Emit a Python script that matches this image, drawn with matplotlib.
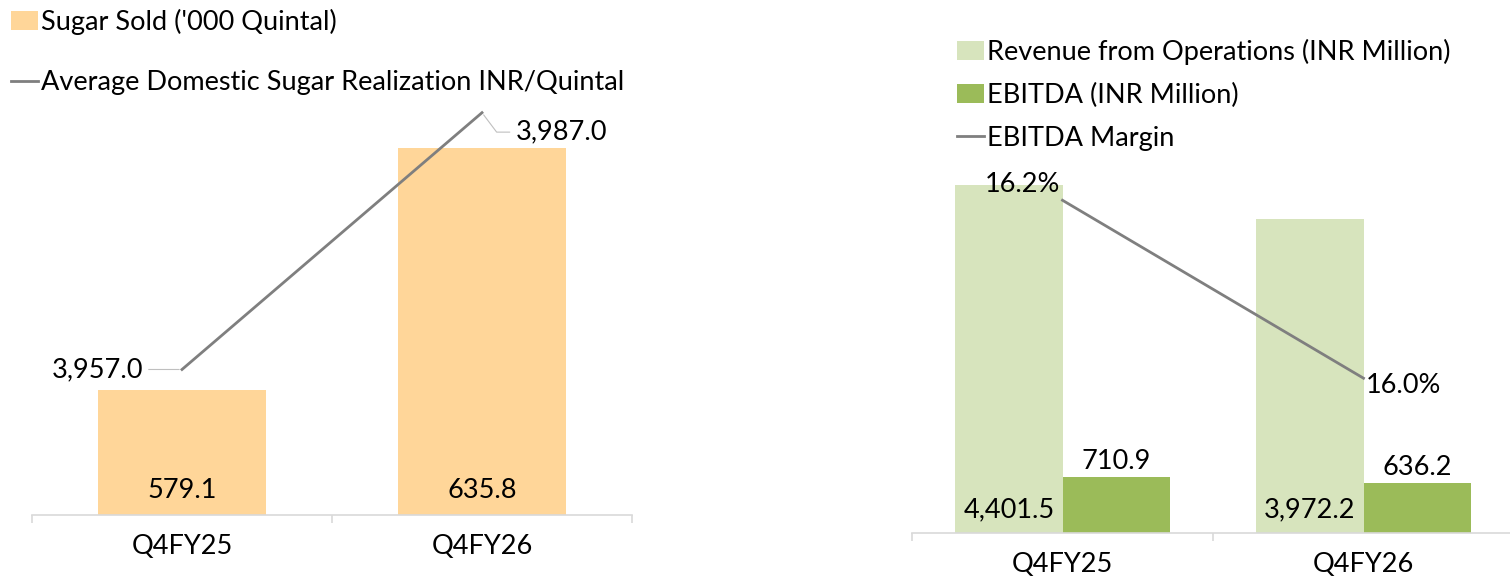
import matplotlib
matplotlib.use("Agg")
import matplotlib.pyplot as plt
from matplotlib.patches import Patch
from matplotlib.lines import Line2D

plt.rcParams['font.family'] = ['Lato', 'DejaVu Sans']

# data
quarters = ['Q4FY25', 'Q4FY26']
sugar_sold = [579.1, 635.8]
sugar_realization = [3957.0, 3987.0]
revenue = [4401.5, 3972.2]
ebitda = [710.9, 636.2]
ebitda_margin = [16.2, 16.0]

SUGAR = '#FFD699'
REV = '#D7E4BD'
EBITDA = '#9BBB59'
LINE = '#7F7F7F'
AXIS = '#D9D9D9'
FS = 19.5
LW = 2.0

W, H = 1510, 580
fig = plt.figure(figsize=(W / 100, H / 100), dpi=100)


def px_axes(x0, x1, ytop, ybot):
    return fig.add_axes([x0 / W, (H - ybot) / H, (x1 - x0) / W, (ybot - ytop) / H])


def style_axes(ax):
    for s in ['top', 'right', 'left']:
        ax.spines[s].set_visible(False)
    ax.spines['bottom'].set_color(AXIS)
    ax.spines['bottom'].set_linewidth(1.2)
    ax.set_yticks([])
    ax.set_xlim(-0.5, 1.5)
    ax.set_xticks(range(len(quarters)))
    ax.set_xticklabels(quarters, fontsize=FS)
    ax.tick_params(axis='x', which='major', length=0, pad=14)
    ax.set_xticks([-0.5, 0.5, 1.5], minor=True)
    ax.tick_params(axis='x', which='minor', length=6, color=AXIS, width=1.2)


def clean_twin(ax2):
    for s in ax2.spines.values():
        s.set_visible(False)
    ax2.set_yticks([])


# ---- left chart: sugar ----
ax1 = px_axes(32, 632, 87, 515)
style_axes(ax1)
x = list(range(len(quarters)))
ax1.bar(x, sugar_sold, width=0.557, color=SUGAR, bottom=0)
ax1.set_ylim(550, 650)
for i, v in enumerate(sugar_sold):
    ax1.annotate(f'{v:,.1f}', xy=(i, 550), xytext=(0, 18), textcoords='offset points',
                 ha='center', va='center', fontsize=FS)

ax1b = ax1.twinx()
clean_twin(ax1b)
ax1b.plot(x, sugar_realization, color=LINE, lw=LW)
ax1b.set_ylim(3940, 3990)
ax1b.annotate(f'{sugar_realization[0]:,.1f}', xy=(0, sugar_realization[0]), xytext=(-28, 0),
              textcoords='offset points', ha='right', va='center', fontsize=FS,
              arrowprops=dict(arrowstyle='-', color='#BFBFBF', lw=0.8, shrinkA=2, shrinkB=2))
ax1b.annotate(f'{sugar_realization[1]:,.1f}', xy=(1, sugar_realization[1]), xytext=(24, -14),
              textcoords='offset points', ha='left', va='center', fontsize=FS,
              arrowprops=dict(arrowstyle='-', color='#BFBFBF', lw=0.8, shrinkA=2, shrinkB=2,
                              connectionstyle='angle,angleA=0,angleB=127,rad=0'))

h1 = [Patch(facecolor=SUGAR), Line2D([0], [0], color=LINE, lw=LW)]
ax1b.legend(h1, ["Sugar Sold ('000 Quintal)", 'Average Domestic Sugar Realization INR/Quintal'],
            loc='upper left', bbox_to_anchor=(11 / W, 1 - 9 / H), bbox_transform=fig.transFigure,
            frameon=False, fontsize=FS, handlelength=1.0, handletextpad=0.12,
            labelspacing=1.3, borderpad=0, borderaxespad=0)

# ---- right chart: revenue / EBITDA ----
ax2 = px_axes(912, 1514, 138, 533)
style_axes(ax2)
bw = 0.356
ax2.bar([i - bw / 2 for i in x], revenue, width=bw, color=REV)
ax2.bar([i + bw / 2 for i in x], ebitda, width=bw, color=EBITDA)
ax2.set_ylim(0, 5000)
for i, v in enumerate(revenue):
    ax2.annotate(f'{v:,.1f}', xy=(i - bw / 2, 0), xytext=(0, 17), textcoords='offset points',
                 ha='center', va='center', fontsize=FS)
for i, v in enumerate(ebitda):
    ax2.annotate(f'{v:,.1f}', xy=(i + bw / 2, v), xytext=(0, 11), textcoords='offset points',
                 ha='center', va='center', fontsize=FS)

ax2b = ax2.twinx()
clean_twin(ax2b)
ax2b.plot(x, ebitda_margin, color=LINE, lw=LW)
ax2b.set_ylim(15.826, 16.27)
ax2b.annotate(f'{ebitda_margin[0]:.1f}%', xy=(0, ebitda_margin[0]), xytext=(-2, 11),
              textcoords='offset points', ha='right', va='center', fontsize=FS)
ax2b.annotate(f'{ebitda_margin[1]:.1f}%', xy=(1, ebitda_margin[1]), xytext=(2, -5),
              textcoords='offset points', ha='left', va='center', fontsize=FS)

h2 = [Patch(facecolor=REV), Patch(facecolor=EBITDA), Line2D([0], [0], color=LINE, lw=LW)]
ax2b.legend(h2, ['Revenue from Operations (INR Million)', 'EBITDA (INR Million)', 'EBITDA Margin'],
            loc='upper left', bbox_to_anchor=(957 / W, 1 - 39 / H), bbox_transform=fig.transFigure,
            frameon=False, fontsize=FS, handlelength=1.0, handletextpad=0.12,
            labelspacing=0.66, borderpad=0, borderaxespad=0)

fig.savefig('out.png', dpi=100)
